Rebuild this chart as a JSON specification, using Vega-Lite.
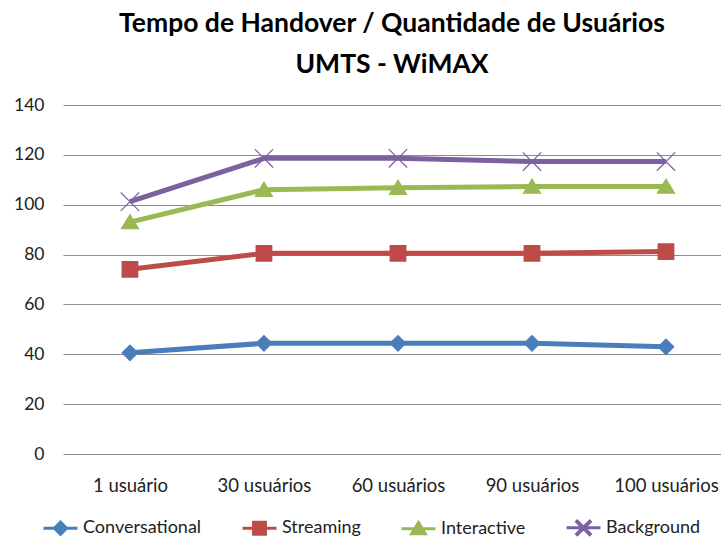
{
  "$schema": "https://vega.github.io/schema/vega-lite/v6.json",
  "width": 658,
  "height": 349,
  "autosize": {"type": "none"},
  "padding": {"left": 63, "top": 105, "right": 0, "bottom": 85},
  "background": "white",
  "title": {
    "text": ["Tempo de Handover / Quantidade de Usuários", "UMTS - WiMAX"],
    "font": "Lato",
    "fontSize": 26.5,
    "fontWeight": "bold",
    "color": "#000000",
    "lineHeight": 41,
    "anchor": "middle",
    "offset": 18
  },
  "config": {
    "view": {"stroke": null},
    "font": "Lato"
  },
  "data": {
    "values": [
      {"cat": "1 usuário", "serie": "Conversational", "v": 40.6},
      {"cat": "30 usuários", "serie": "Conversational", "v": 44.4},
      {"cat": "60 usuários", "serie": "Conversational", "v": 44.4},
      {"cat": "90 usuários", "serie": "Conversational", "v": 44.4},
      {"cat": "100 usuários", "serie": "Conversational", "v": 43.0},
      {"cat": "1 usuário", "serie": "Streaming", "v": 74.1},
      {"cat": "30 usuários", "serie": "Streaming", "v": 80.5},
      {"cat": "60 usuários", "serie": "Streaming", "v": 80.5},
      {"cat": "90 usuários", "serie": "Streaming", "v": 80.5},
      {"cat": "100 usuários", "serie": "Streaming", "v": 81.2},
      {"cat": "1 usuário", "serie": "Interactive", "v": 93.0},
      {"cat": "30 usuários", "serie": "Interactive", "v": 106.0},
      {"cat": "60 usuários", "serie": "Interactive", "v": 106.8},
      {"cat": "90 usuários", "serie": "Interactive", "v": 107.3},
      {"cat": "100 usuários", "serie": "Interactive", "v": 107.3},
      {"cat": "1 usuário", "serie": "Background", "v": 101.2},
      {"cat": "30 usuários", "serie": "Background", "v": 118.6},
      {"cat": "60 usuários", "serie": "Background", "v": 118.6},
      {"cat": "90 usuários", "serie": "Background", "v": 117.3},
      {"cat": "100 usuários", "serie": "Background", "v": 117.3}
    ]
  },
  "encoding": {
    "x": {
      "field": "cat",
      "type": "nominal",
      "sort": ["1 usuário", "30 usuários", "60 usuários", "90 usuários", "100 usuários"],
      "scale": {"type": "point", "padding": 0.455, "align": 0.549},
      "axis": {
        "title": null,
        "domain": false,
        "ticks": false,
        "grid": false,
        "labelAngle": 0,
        "labelFont": "Lato",
        "labelFontSize": 18.5,
        "labelColor": "#222222",
        "labelPadding": 22
      }
    },
    "y": {
      "field": "v",
      "type": "quantitative",
      "scale": {"domain": [0, 140]},
      "axis": {
        "title": null,
        "domain": false,
        "ticks": false,
        "values": [0, 20, 40, 60, 80, 100, 120, 140],
        "gridColor": "#8c8c8c",
        "gridWidth": 1.2,
        "labelFont": "Lato",
        "labelFontSize": 17.5,
        "labelColor": "#222222",
        "labelPadding": 19
      }
    },
    "color": {
      "field": "serie",
      "type": "nominal",
      "scale": {
        "domain": ["Conversational", "Streaming", "Interactive", "Background"],
        "range": ["#4A7EBB", "#BE4B48", "#98B954", "#7D60A0"]
      },
      "legend": {
        "title": null,
        "orient": "none",
        "legendX": -21,
        "legendY": 404,
        "direction": "horizontal",
        "labelFont": "Lato",
        "labelFontSize": 18,
        "labelColor": "#222222",
        "labelOffset": 4,
        "columnPadding": 34,
        "symbolSize": 1156,
        "encode": {
          "symbols": {
            "update": {
              "stroke": {"scale": "color", "field": "value"},
              "strokeWidth": {"value": 3},
              "opacity": {"value": 1}
            }
          }
        }
      }
    }
  },
  "layer": [
    {
      "mark": {"type": "line", "strokeWidth": 5, "strokeJoin": "round"},
      "encoding": {"detail": {"field": "serie"}}
    },
    {
      "mark": {"type": "point", "filled": true, "opacity": 1, "size": 2304, "strokeWidth": 0},
      "encoding": {
        "shape": {
          "field": "serie",
          "type": "nominal",
          "scale": {
            "domain": ["Conversational", "Streaming", "Interactive", "Background"],
            "range": [
              "M-1,0H1M0,-0.36L0.36,0L0,0.36L-0.36,0Z",
              "M-1,0H1M-0.35,-0.35H0.35V0.35H-0.35Z",
              "M-1,0H1M0,-0.36L0.4,0.3H-0.4Z",
              "M-1,0H1M-0.4,-0.365L-0.365,-0.4L0,-0.035L0.365,-0.4L0.4,-0.365L0.035,0L0.4,0.365L0.365,0.4L0,0.035L-0.365,0.4L-0.4,0.365L-0.035,0Z"
            ]
          },
          "legend": {
            "title": null,
            "orient": "none",
            "legendX": -21,
            "legendY": 404,
            "direction": "horizontal",
            "labelFont": "Lato",
            "labelFontSize": 18,
            "labelColor": "#222222",
            "labelOffset": 4,
            "columnPadding": 34,
            "symbolSize": 1156,
            "encode": {
              "symbols": {
                "update": {
                  "stroke": {"scale": "color", "field": "value"},
                  "strokeWidth": {"value": 3},
                  "opacity": {"value": 1}
                }
              }
            }
          }
        }
      }
    }
  ]
}
